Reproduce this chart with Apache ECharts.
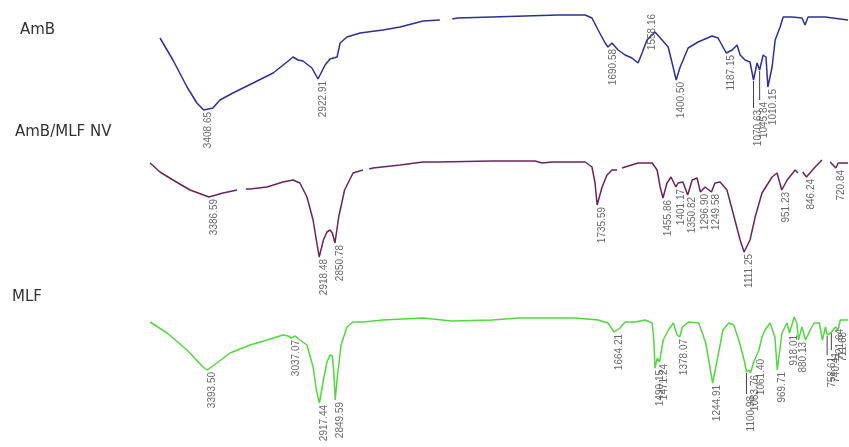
<!DOCTYPE html>
<html><head><meta charset="utf-8">
<script src="https://cdn.jsdelivr.net/npm/echarts@6/dist/echarts.min.js"></script>
<style>html,body{margin:0;padding:0;background:#fff}#c{width:849px;height:447px}</style>
</head><body><div id="c"></div>
<script>
// Sample names (panel captions)
const sampleNames = ['AmB', 'AmB/MLF NV', 'MLF'];

// Spectra: [wavenumber (cm-1), transmittance (arb. units, panel-relative)]; null = break in trace
const ambSpectrum = [
 [3595,87],[3540,65],[3480,38],[3438,22],[3409,15],[3370,17],[3340,25],[3285,32],[3199,42],[3114,52],
 [3055,63],[3029,68],[3008,65],[2987,64],[2949,57],[2923,46],[2893,60],[2872,66],[2842,68],[2829,82],
 [2800,88],[2744,92],[2647,95],[2574,98],[2476,104],[2405,105],[2380,null],[2352,106],[2328,107],[2183,108],
 [2043,109],[1902,110],[1787,110],[1758,107],[1732,95],[1702,82],[1690,78],[1673,82],[1647,75],[1617,70],
 [1588,67],[1562,62],[1545,72],[1524,85],[1490,93],[1460,85],[1434,78],[1413,58],[1400,45],[1383,58],
 [1349,77],[1307,83],[1247,89],[1222,87],[1201,78],[1187,72],[1162,75],[1141,80],[1128,70],[1107,65],
 [1086,63],[1071,45],[1056,62],[1045,55],[1030,70],[1018,68],[1010,38],[992,58],[979,85],[958,98],
 [945,108],[907,108],[865,107],[852,100],[839,108],[767,108],[669,105]
];
const nvSpectrum = [
 [3637,97],[3595,88],[3540,80],[3467,70],[3387,63],[3327,67],[3267,70],[3250,null],[3230,71],[3212,71],
 [3140,73],[3072,78],[3029,80],[3000,77],[2970,63],[2944,40],[2930,20],[2918,3],[2900,20],[2885,28],
 [2872,30],[2862,27],[2851,17],[2835,43],[2810,70],[2774,87],[2732,90],[2720,null],[2705,91],[2689,92],
 [2574,95],[2476,98],[2413,98],[2183,99],[2000,99],[1970,97],[1928,98],[1787,98],[1758,93],[1745,77],
 [1736,55],[1715,73],[1694,85],[1673,90],[1651,90],[1640,null],[1630,92],[1617,93],[1562,97],[1502,97],
 [1481,90],[1468,73],[1456,62],[1439,77],[1422,83],[1401,73],[1392,77],[1371,78],[1351,65],[1332,80],
 [1311,82],[1297,68],[1277,73],[1250,68],[1235,77],[1213,78],[1184,70],[1158,47],[1128,20],[1111,8],
 [1086,20],[1064,43],[1035,67],[992,83],[971,87],[951,70],[928,80],[894,90],[882,87],[872,null],
 [862,88],[846,83],[809,93],[780,100],[765,null],[745,98],[721,92],[711,97],[669,97]
];
const mlfSpectrum = [
 [3637,98],[3565,87],[3480,70],[3412,53],[3394,50],[3353,57],[3297,67],[3212,75],[3140,80],[3072,85],
 [3050,84],[3037,82],[3020,84],[3000,80],[2970,75],[2944,53],[2930,30],[2917,17],[2900,40],[2885,58],
 [2872,65],[2862,64],[2855,45],[2850,20],[2840,45],[2825,75],[2800,93],[2774,98],[2732,98],[2647,100],
 [2476,102],[2468,100],[2353,99],[2183,100],[2072,102],[1830,102],[1732,100],[1690,97],[1664,88],[1639,92],
 [1617,98],[1575,98],[1532,100],[1502,97],[1495,80],[1490,52],[1480,62],[1471,58],[1455,80],[1433,90],
 [1412,97],[1396,85],[1385,83],[1373,93],[1347,98],[1304,97],[1274,77],[1245,37],[1223,63],[1201,90],
 [1176,97],[1155,95],[1130,77],[1108,57],[1101,48],[1090,50],[1084,47],[1070,58],[1061,63],[1048,70],
 [1035,83],[1022,90],[1001,97],[980,83],[970,50],[950,87],[929,97],[918,87],[898,103],[887,97],
 [880,80],[865,93],[850,80],[830,90],[813,97],[791,97],[778,80],[765,93],[758,85],[743,87],
 [722,93],[712,90],[702,100],[669,100]
];

// Peak labels
const ambPeakWn = [3409, 2923, 1690, 1524, 1400, 1187, 1071, 1045, 1010];
const ambPeakText = ['3408.65','2922.91','1690.58','1558.16','1400.50','1187.15','1070.63','1045.84','1010.15'];
const nvPeakWn = [3387, 2918, 2851, 1736, 1456, 1401, 1351, 1297, 1250, 1111, 951, 846, 721];
const nvPeakText = ['3386.59','2918.48','2850.78','1735.59','1455.86','1401.17','1350.82','1296.90','1249.58','1111.25','951.23','846.24','720.84'];
const mlfPeakWn = [3394, 3037, 2917, 2850, 1664, 1490, 1471, 1385, 1245, 1101, 1084, 1061, 970, 918, 880, 758, 740, 722, 712];
const mlfPeakText = ['3393.50','3037.07','2917.44','2849.59','1664.21','1490.15','1471.24','1378.07','1244.91','1100.98','1083.76','1061.40','969.71','918.01','880.13','758.61','740.41','721.64','711.68'];

// label leader drops (px) — layout only
const ambDrop = [0,0,0,-28,0,0,28,30,0];
const nvDrop = [0,0,0,0,0,0,0,0,0,0,0,0,0];
const mlfDrop = [0,0,0,0,0,0,0,0,0,22,0,0,0,0,0,20,18,0,0];

const colors = ['#2c2f97', '#6a2558', '#52d83e'];
const panelTop = [5, 140, 300];
const WN_MIN = 665, WN_MAX = 3697;

function valueAt(data, wn) {
  for (let i = 0; i < data.length - 1; i++) {
    const a = data[i], b = data[i + 1];
    if (a[1] == null || b[1] == null) continue;
    if ((wn <= a[0] && wn >= b[0])) {
      const t = (a[0] - wn) / (a[0] - b[0] || 1);
      return a[1] + t * (b[1] - a[1]);
    }
  }
  return 0;
}

const spectra = [ambSpectrum, nvSpectrum, mlfSpectrum];
const peakWns = [ambPeakWn, nvPeakWn, mlfPeakWn];
const peakTexts = [ambPeakText, nvPeakText, mlfPeakText];
const drops = [ambDrop, nvDrop, mlfDrop];

const grid = [], xAxis = [], yAxis = [], series = [];
spectra.forEach((sp, g) => {
  grid.push({ left: 136, right: 0, top: panelTop[g], height: 120 });
  xAxis.push({ gridIndex: g, type: 'value', min: WN_MIN, max: WN_MAX, inverse: true, show: false });
  yAxis.push({ gridIndex: g, type: 'value', min: 0, max: 120, show: false });
  series.push({
    type: 'line', xAxisIndex: g, yAxisIndex: g, data: sp, showSymbol: false, silent: true,
    connectNulls: false, clip: false, lineStyle: { color: colors[g], width: 1.5 }, z: 2
  });
  const items = [], leaders = [];
  peakWns[g].forEach((w, i) => {
    const v = valueAt(sp, w), d = drops[g][i];
    items.push({ name: peakTexts[g][i], value: [w, v - d] });
    if (d > 0) { leaders.push([w, v - 1], [w, v - d], [w, null]); }
  });
  series.push({
    type: 'scatter', xAxisIndex: g, yAxisIndex: g, data: items, symbolSize: 0, silent: true, clip: false, z: 3,
    label: { show: true, formatter: p => p.name, position: 'bottom', distance: 2, rotate: 90,
      align: 'right', verticalAlign: 'top', fontSize: 10, fontFamily: 'Liberation Sans', color: '#444444' }
  });
  if (leaders.length) series.push({
    type: 'line', xAxisIndex: g, yAxisIndex: g, data: leaders, showSymbol: false, silent: true, clip: false,
    connectNulls: false, lineStyle: { color: '#444', width: 1 }, z: 1
  });
});

const chart = echarts.init(document.getElementById('c'), null, { renderer: 'canvas' });
chart.setOption({
  animation: false,
  backgroundColor: '#ffffff',
  grid, xAxis, yAxis, series,
  graphic: [
    { type: 'text', left: 20, top: 23, style: { text: sampleNames[0], font: '15px "DejaVu Sans"', fill: '#333333' } },
    { type: 'text', left: 15, top: 125, style: { text: sampleNames[1], font: '15px "DejaVu Sans"', fill: '#333333' } },
    { type: 'text', left: 12, top: 290, style: { text: sampleNames[2], font: '15px "DejaVu Sans"', fill: '#333333' } }
  ]
});
</script></body></html>
